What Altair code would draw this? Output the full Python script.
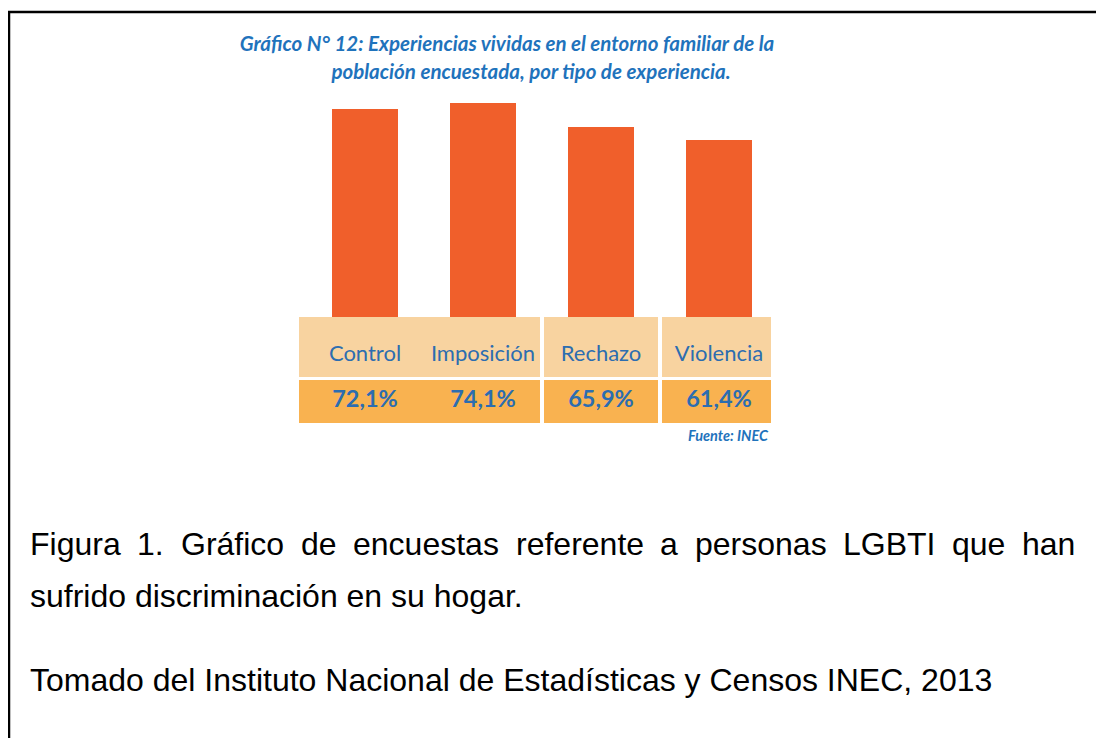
import altair as alt
import pandas as pd

# ---- data ----
categories = ["Control", "Imposición", "Rechazo", "Violencia"]
values = [72.1, 74.1, 65.9, 61.4]

title_lines = [
    "Gráfico N° 12: Experiencias vividas en el entorno familiar de la",
    "población encuestada, por tipo de experiencia.",
]
source_text = "Fuente: INEC"
caption_line1 = ["Figura", "1.", "Gráfico", "de", "encuestas", "referente",
                 "a", "personas", "LGBTI", "que", "han"]
caption_line2 = "sufrido discriminación en su hogar."
caption_line3 = "Tomado del Instituto Nacional de Estadísticas y Censos INEC, 2013"

df = pd.DataFrame({"cat": categories, "val": values})

# ---- style ----
BAR = "#F05F2B"
PEACH = "#F8D3A0"
ORANGE = "#F9B250"
BLUE = "#2C6DB0"
TITLE_BLUE = "#1F73BC"
W, H = 1088, 730
OX, OY = 8, 8  # page margin offset

def px(x):
    return x - OX

def py(y):
    return y - OY

xscale = alt.Scale(domain=categories, range=[px(306), px(778)],
                   paddingInner=0, paddingOuter=0)
yscale = alt.Scale(domain=[0, 100], range=[py(318), py(28)])
X = alt.X("cat:N", scale=xscale, axis=None, sort=categories)

base = alt.Chart(df)

bars = base.mark_bar(color=BAR, size=66).encode(
    x=X, y=alt.Y("val:Q", scale=yscale, axis=None)
)

def panel(y0, y1, color):
    return alt.Chart(pd.DataFrame({"a": [0]})).mark_rect(color=color).encode(
        x=alt.value(px(299)), x2=alt.value(px(771)),
        y=alt.value(py(y0)), y2=alt.value(py(y1))
    )

row1 = panel(317, 377, PEACH)
row2 = panel(380, 423, ORANGE)

dividers = base.transform_filter(
    alt.FieldOneOfPredicate(field="cat", oneOf=categories[2:])
).mark_rule(color="white", strokeWidth=4).encode(
    x=alt.X("cat:N", scale=xscale, axis=None, sort=categories, bandPosition=0),
    y=alt.value(py(317)), y2=alt.value(py(423))
)

labels = base.mark_text(font="Lato", fontSize=22, color=BLUE,
                        baseline="middle").encode(
    x=X, y=alt.value(py(354)), text="cat:N"
)
vals = base.transform_calculate(
    lbl="replace(format(datum.val, '.1f'), '.', ',') + '%'"
).mark_text(font="Lato", fontSize=23.5, fontWeight="bold", color=BLUE,
            baseline="middle").encode(
    x=X, y=alt.value(py(400)), text="lbl:N"
)

def txt(s, x, y, **kw):
    return alt.Chart(pd.DataFrame({"t": [s]})).mark_text(**kw).encode(
        x=alt.value(x), y=alt.value(y), text="t:N"
    )

TSTYLE = dict(font="Lato", fontSize=20.5, fontWeight="bold",
              fontStyle="italic", color=TITLE_BLUE, align="center",
              baseline="middle")
title1 = txt(title_lines[0], px(507), py(45), **TSTYLE)
title2 = txt(title_lines[1], px(531), py(73), **TSTYLE)
source = txt(source_text, px(768), py(437), font="Lato", fontSize=14.5,
             fontWeight="bold", fontStyle="italic", color=TITLE_BLUE,
             align="right", baseline="middle")

CAP = dict(font="Liberation Sans", fontSize=32, color="#000000",
           align="left", baseline="alphabetic")
# justified first caption line: word start positions
word_x = [30, 137, 181, 301, 353, 516, 660, 695, 843, 952, 1022]
cap1 = [txt(w, px(x), py(555), **CAP) for w, x in zip(caption_line1, word_x)]
cap2 = txt(caption_line2, px(30), py(607), **CAP)
cap3 = txt(caption_line3, px(30), py(691), **CAP)

border_left = alt.Chart(pd.DataFrame({"a": [0]})).mark_rule(
    color="black", strokeWidth=2.5).encode(
    x=alt.value(px(9)), y=alt.value(py(11)), y2=alt.value(H + 20)
)
border_top = alt.Chart(pd.DataFrame({"a": [0]})).mark_rule(
    color="black", strokeWidth=2.5).encode(
    x=alt.value(px(8)), x2=alt.value(W + 20), y=alt.value(py(12))
)

chart = alt.layer(
    bars, row1, row2, dividers, labels, vals, title1, title2, source,
    *cap1, cap2, cap3, border_left, border_top
).properties(
    width=W, height=H, padding=0,
    autosize=alt.AutoSizeParams(type="none")
).configure_view(strokeWidth=0).resolve_scale(x="shared", y="shared")

chart.save("out.html", embed_options={"renderer": "svg", "actions": False})
